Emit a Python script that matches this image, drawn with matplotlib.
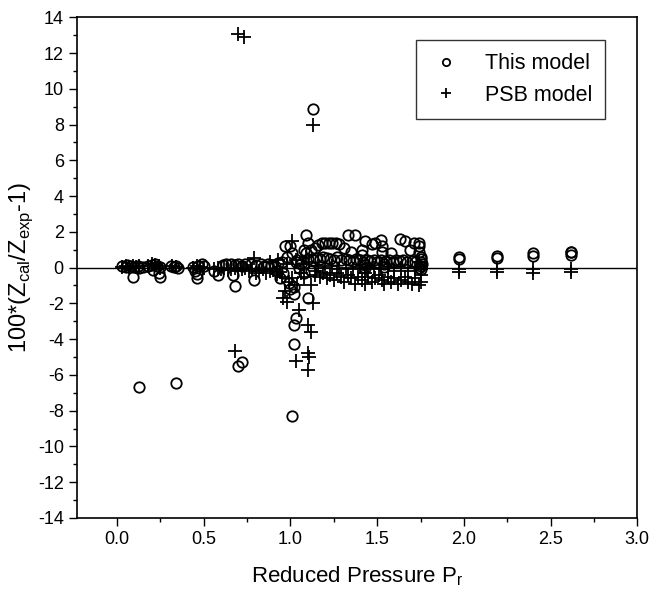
"""
Deviation of calculated compressibility factor vs reduced pressure,
this model compared with the PSB model.
"""

import matplotlib
matplotlib.use("Agg")
import matplotlib.pyplot as plt
from matplotlib.ticker import MultipleLocator

plt.rcParams["font.family"] = ["Liberation Sans", "DejaVu Sans"]
plt.rcParams["mathtext.fontset"] = "custom"
plt.rcParams["mathtext.rm"] = "Liberation Sans"

# --- This model (open circles) ---
this_x = [
    0.03, 0.05, 0.06, 0.08, 0.09, 0.10, 0.12, 0.13, 0.15,
    0.18, 0.20, 0.22, 0.23, 0.24, 0.25, 0.25, 0.21,
    0.31, 0.33, 0.34, 0.35,
    0.44, 0.45, 0.46, 0.47, 0.49, 0.50, 0.46,
    0.56, 0.58, 0.61, 0.63, 0.66, 0.68, 0.70, 0.68, 0.67, 0.72, 0.74, 0.79,
    0.77, 0.80, 0.83, 0.85, 0.87, 0.89, 0.91, 0.93, 0.95, 0.97, 0.98, 0.99,
    1.00, 1.01, 1.02, 1.03, 0.96, 0.94, 1.00, 1.02, 1.04, 1.06, 1.08, 1.09,
    1.10, 1.10, 1.09, 1.05, 1.08, 1.12, 0.92,
    1.12, 1.14, 1.16, 1.18, 1.20, 1.22, 1.24, 1.26, 1.28, 1.31, 1.33, 1.37,
    1.35, 1.43, 1.41, 1.41, 1.47, 1.49, 1.52, 1.53, 1.53, 1.58, 1.63, 1.66,
    1.71, 1.69, 1.74, 1.74, 1.74,
    1.10, 1.13, 1.15, 1.17, 1.19, 1.21, 1.23, 1.25, 1.27, 1.29, 1.32, 1.34,
    1.36, 1.38, 1.40, 1.42, 1.44, 1.46, 1.48, 1.50, 1.52, 1.55, 1.57, 1.59,
    1.61, 1.63, 1.65, 1.67, 1.70, 1.72, 1.75, 1.75, 1.75, 1.75, 1.75, 1.74,
    1.76, 1.43, 1.54, 1.43, 1.54,
    1.97, 1.97, 2.19, 2.19, 2.40, 2.40, 2.62, 2.62, 2.62,
    0.13, 0.34, 0.70, 0.72, 1.01, 1.02, 1.02, 1.03, 1.13,
]
this_y = [
    0.10, 0.05, 0.15, 0.10, -0.55, 0.05, 0.10, 0.00, 0.05,
    0.10, 0.15, 0.20, 0.10, -0.30, -0.50, 0.05, -0.15,
    0.10, 0.05, 0.10, 0.00,
    0.05, -0.20, -0.60, 0.10, 0.20, 0.10, -0.35,
    -0.20, -0.40, 0.15, 0.20, 0.20, 0.15, 0.20, -1.05, -0.40, 0.10, 0.20, -0.70,
    0.20, 0.15, 0.20, 0.10, 0.20, 0.15, 0.10, 0.25, 0.30, 1.20, 0.60, -0.85,
    -1.20, 0.80, -1.50, 0.30, -0.30, -0.60, 1.20, -1.10, 0.40, 0.20, 1.00, 1.80,
    1.40, -1.70, 0.80, 0.00, -0.30, -0.20, -0.20,
    1.00, 1.10, 1.25, 1.35, 1.40, 1.40, 1.40, 1.35, 1.30, 1.10, 1.80, 1.80,
    0.90, 1.50, 1.00, 0.70, 1.30, 1.35, 1.55, 1.20, 0.90, 0.80, 1.60, 1.50,
    1.40, 1.00, 1.40, 1.20, 0.90,
    0.50, 0.40, 0.55, 0.50, 0.60, 0.55, 0.50, 0.45, 0.60, 0.40, 0.50, 0.45,
    0.35, 0.50, 0.40, 0.30, 0.45, 0.35, 0.40, 0.30, 0.45, 0.35, 0.40, 0.30,
    0.45, 0.35, 0.40, 0.30, 0.35, 0.30, 0.50, 0.30, 0.10, -0.10, 0.60, 0.00,
    0.20, 0.15, 0.20, 0.00, 0.05,
    0.50, 0.60, 0.55, 0.65, 0.65, 0.80, 0.70, 0.85, 0.90,
    -6.70, -6.45, -5.50, -5.30, -8.30, -4.30, -3.20, -2.80, 8.85,
]

# --- PSB model (plus signs) ---
psb_x = [
    0.03, 0.05, 0.07, 0.09, 0.11, 0.13,
    0.18, 0.20, 0.22, 0.24, 0.25,
    0.32, 0.34,
    0.44, 0.46, 0.48, 0.50,
    0.56, 0.58, 0.60, 0.62, 0.64, 0.66, 0.68, 0.70, 0.72, 0.74,
    0.76, 0.78, 0.79, 0.80, 0.82, 0.84, 0.86, 0.88, 0.90, 0.92, 0.94, 0.95,
    0.96, 0.97, 0.98, 0.99, 1.01, 1.01, 1.03, 1.04, 1.05, 1.06, 1.08, 1.10,
    1.12, 1.10, 1.11, 1.10, 1.13, 1.12, 1.14,
    0.88, 0.93, 0.98, 1.03, 1.07, 1.11, 1.09,
    1.15, 1.17, 1.19, 1.21, 1.23, 1.25, 1.27, 1.29, 1.31, 1.33, 1.35, 1.37,
    1.39, 1.41, 1.43, 1.43, 1.45, 1.47, 1.49, 1.51, 1.53, 1.54, 1.56, 1.58,
    1.60, 1.62, 1.64, 1.66, 1.68, 1.70, 1.72, 1.74, 1.75, 1.75, 1.75, 1.75,
    1.74,
    1.16, 1.20, 1.24, 1.28, 1.32, 1.36, 1.40, 1.44, 1.48, 1.52, 1.56, 1.60,
    1.64, 1.68, 1.72,
    1.97, 1.97, 2.19, 2.19, 2.40, 2.40, 2.62, 2.62,
    0.68, 1.13, 0.70, 0.73,
]
psb_y = [
    0.05, 0.10, 0.05, 0.10, 0.05, 0.10,
    0.10, 0.20, 0.15, 0.10, 0.00,
    0.10, 0.05,
    0.00, 0.10, 0.05, 0.00,
    -0.10, 0.00, -0.10, -0.05, -0.15, -0.10, 0.00, -0.20, -0.10, 0.00,
    -0.20, -0.10, 0.55, -0.30, -0.20, -0.10, -0.30, -0.20, -0.15, -0.35, -0.25, -0.50,
    -1.70, -1.30, -1.95, -0.80, 1.50, -0.60, -5.20, -1.00, -2.35, -0.30, -0.50, -3.20,
    -3.60, -4.80, -5.00, -5.70, -2.00, -1.00, -0.40,
    0.30, 0.40, 0.20, 0.40, 0.20, 0.30, 0.60,
    -0.20, -0.50, -0.30, -0.60, -0.40, -0.70, -0.30, -0.50, -0.80, -0.40, -0.60, -0.90,
    -0.50, -0.70, -0.30, -0.90, -0.50, -0.80, -0.60, -0.40, -0.70, -0.90, -0.50, -0.80,
    -0.60, -0.90, -0.70, -0.50, -0.80, -0.90, -0.60, -1.00, -0.80, -0.40, -0.10, 0.10,
    0.30,
    0.10, 0.00, 0.10, -0.10, 0.00, -0.10, 0.05, -0.10, 0.00, -0.10, 0.05, -0.20,
    0.00, -0.20, 0.00,
    -0.10, -0.25, -0.10, -0.25, -0.10, -0.30, -0.10, -0.25,
    -4.65, 7.95, 13.05, 12.90,
]

X_TICKS = [0.0, 0.5, 1.0, 1.5, 2.0, 2.5, 3.0]
Y_TICKS = list(range(-14, 15, 2))


def main() -> None:
    fig = plt.figure(figsize=(6.53, 5.96), dpi=100)
    ax = fig.add_axes([0.118, 0.131, 0.858, 0.840])

    ax.axhline(0.0, color="black", linewidth=1.0, zorder=1)
    ax.plot(this_x, this_y, linestyle="none", marker="o", markersize=7.5,
            markerfacecolor="none", markeredgecolor="black", markeredgewidth=1.3,
            label="This model", zorder=3)
    ax.plot(psb_x, psb_y, linestyle="none", marker="+", markersize=10,
            color="black", markeredgewidth=1.3, label="PSB model", zorder=3)

    ax.set_xlim(-0.23, 3.0)
    ax.set_ylim(-14, 14)
    ax.set_xticks(X_TICKS, [f"{v:.1f}" for v in X_TICKS])
    ax.set_yticks(Y_TICKS, [str(v) for v in Y_TICKS])
    ax.xaxis.set_minor_locator(MultipleLocator(0.25))
    ax.yaxis.set_minor_locator(MultipleLocator(1))
    ax.tick_params(which="major", direction="out", length=6, width=1, labelsize=13)
    ax.tick_params(which="minor", direction="out", length=3, width=1)
    for s in ax.spines.values():
        s.set_linewidth(1.2)

    ax.set_xlabel(r"Reduced Pressure P$_{\rm r}$", fontsize=16, labelpad=12)
    ax.set_ylabel(r"100*(Z$_{\rm cal}$/Z$_{\rm exp}$-1)", fontsize=17, labelpad=2)

    leg = ax.legend(loc="upper right", bbox_to_anchor=(0.943, 0.954), fontsize=15.5,
                    frameon=True, fancybox=False, edgecolor="black",
                    markerscale=0.7, handlelength=1.6, handletextpad=1.0,
                    borderpad=0.6, labelspacing=0.5, borderaxespad=0.0)
    leg.get_frame().set_linewidth(1.0)

    fig.savefig("out.png", dpi=100)


if __name__ == "__main__":
    main()
